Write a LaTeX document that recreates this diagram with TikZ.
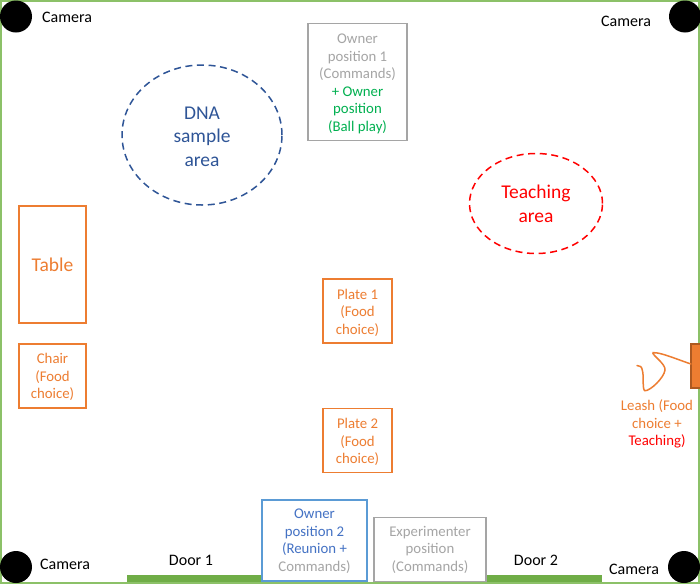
\documentclass[tikz,border=0pt]{standalone}
\usepackage{fontspec}
\setmainfont{Carlito}
\usetikzlibrary{shapes.geometric}
\definecolor{wallgreen}{HTML}{70AD47}
\definecolor{wallsoft}{HTML}{8CC168}
\definecolor{orangeA}{HTML}{ED7D31}
\definecolor{orangeD}{HTML}{AE5A21}
\definecolor{greyA}{HTML}{A5A5A5}
\definecolor{blueA}{HTML}{2F5597}
\definecolor{blueB}{HTML}{4472C4}
\definecolor{blueL}{HTML}{5B9BD5}
\definecolor{redA}{HTML}{FF0000}
\definecolor{greenA}{HTML}{00B050}
\newcommand{\topsp}[1]{\rule{0pt}{#1pt}}
\tikzset{
  x=1pt,y=-1pt,
  txt/.style={font=\fontsize{14.8}{17.5}\selectfont,align=center,inner sep=0pt,outer sep=0pt},
  bigtxt/.style={font=\fontsize{19.5}{23.5}\selectfont},
  cam/.style={circle,fill=black,minimum size=32pt,inner sep=0pt},
  camlabel/.style={txt,font=\fontsize{16}{19}\selectfont,text=black},
  orangebox/.style={draw=orangeA,line width=1.7pt,txt,text=orangeA,anchor=north west},
  greybox/.style={draw=greyA,line width=1.7pt,txt,text=greyA,anchor=north west},
  bluebox/.style={draw=blueL,line width=1.7pt,txt,text=blueB,anchor=north west},
  door/.style={fill=wallgreen,draw=none,anchor=north west,inner sep=0pt,outer sep=0pt},
  area/.style={ellipse,dash pattern=on 7pt off 4.6pt,line width=1.5pt,inner sep=0pt,outer sep=0pt,align=center,bigtxt},
}
\begin{document}
\begin{tikzpicture}
\useasboundingbox (0,0) rectangle (700,584);
\fill[white] (0,0) rectangle (700,584);
% doors
\node[door,minimum width=134pt,minimum height=9pt] (door1) at (127,574.5) {};
\node[door,minimum width=116pt,minimum height=9pt] (door2) at (486,574.5) {};
% walls
\draw[wallsoft,line width=2.6pt] (1,1) rectangle (699,583);
% cameras
\node[cam] (camTL) at (16,16.5) {};
\node[cam] (camTR) at (685,16.5) {};
\node[cam] (camBL) at (16,567) {};
\node[cam] (camBR) at (684,567) {};
\node[camlabel] (labTL) at (67,17) {Camera};
\node[camlabel] (labTR) at (626,21.5) {Camera};
\node[camlabel] (labBL) at (65,564.5) {Camera};
\node[camlabel] (labBR) at (634,569) {Camera};
\node[camlabel] (door1lab) at (191,560.5) {Door 1};
\node[camlabel] (door2lab) at (536,560.5) {Door 2};
% areas
\node[area,draw=blueA,text=blueA,minimum width=160pt,minimum height=140pt] (dna) at (202,135) {\topsp{15.4}DNA\\sample\\area};
\node[area,draw=redA,text=redA,minimum width=133pt,minimum height=100pt] (teach) at (536,203.5) {\topsp{14.4}Teaching\\area};
% boxes
\node[greybox,minimum width=99pt,minimum height=117pt] (own1) at (308,23.5)
  {\topsp{13.5}Owner\\position 1\\(Commands)\\\textcolor{greenA}{+ Owner}\\\textcolor{greenA}{position}\\\textcolor{greenA}{(Ball play)}};
\node[orangebox,minimum width=67pt,minimum height=117pt,bigtxt] (table) at (19,206) {Table};
\node[orangebox,minimum width=67pt,minimum height=64pt] (chair) at (19,344) {\topsp{12.8}Chair\\(Food\\choice)};
\node[orangebox,minimum width=69pt,minimum height=64pt] (plate1) at (323,279) {\topsp{13.8}Plate 1\\(Food\\choice)};
\node[orangebox,minimum width=69pt,minimum height=64pt] (plate2) at (323,408.5) {\topsp{13.8}Plate 2\\(Food\\choice)};
\node[bluebox,minimum width=105pt,minimum height=81pt] (own2) at (262,500) {\topsp{11.5}Owner\\position 2\\(Reunion +\\\textcolor{greyA}{Commands)}};
\node[greybox,minimum width=112pt,minimum height=64pt] (exper) at (374,517.5) {\topsp{10.5}Experimenter\\position\\(Commands)};
% leash
\node[draw=orangeD,fill=orangeA,line width=1.2pt,minimum width=10pt,minimum height=44pt,inner sep=0pt,outer sep=0pt,anchor=north west] (post) at (691,344) {};
\coordinate (leashStart) at (post.west|-0,364);
\coordinate (leashEnd) at (637,365.5);
\draw[orangeA,line width=1.5pt,line cap=round] (leashStart) .. controls (676,359) and (660,352) .. (653,352.7)
  .. controls (651,354) and (666,364) .. (665,370)
  .. controls (664,378) and (650,391) .. (645,390.7)
  .. controls (642,390) and (644,376) .. (642.5,371)
  .. controls (642,367) and (640,365) .. (leashEnd);
\node[txt,text=orangeA] (leash) at (657,424) {Leash (Food\\choice +\\\textcolor{redA}{Teaching)}};
\end{tikzpicture}
\end{document}
